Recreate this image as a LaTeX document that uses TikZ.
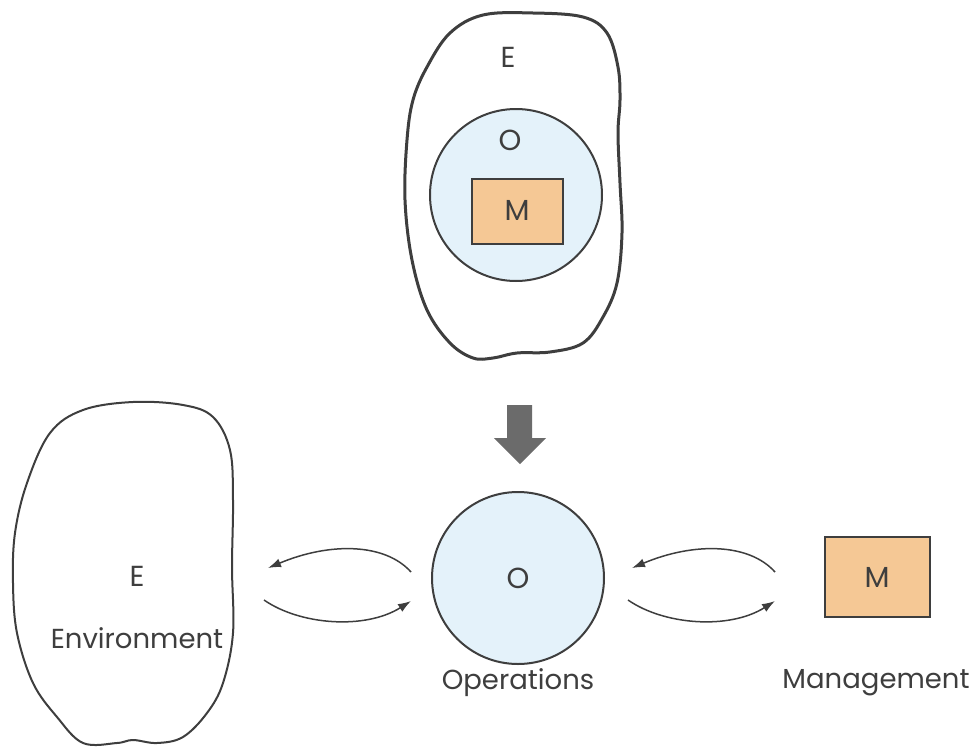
\documentclass[tikz,border=0pt]{standalone}
\usepackage{fontspec}
\setmainfont{Poppins}
\usetikzlibrary{arrows.meta}
\definecolor{ink}{HTML}{3E3E3E}
\definecolor{opblue}{HTML}{E4F2FA}
\definecolor{mgorange}{HTML}{F5C895}
\definecolor{bigarrow}{HTML}{6B6B6B}
\tikzset{
  txt/.style={text=ink,font=\fontsize{29}{32}\selectfont,inner sep=0pt},
  lbl/.style={text=ink,font=\fontsize{27.5}{32}\selectfont,inner sep=0pt},
  opcircle/.style={circle,draw=ink,line width=2pt,fill=opblue,minimum size=172pt,inner sep=0pt},
  mgbox/.style={rectangle,draw=ink,line width=1.8pt,fill=mgorange,inner sep=0pt},
  blob/.style={draw=ink,line cap=round,line join=round},
  flow/.style={draw=ink,line width=1.5pt,-{Latex[length=13pt,width=9pt]}}
}
\begin{document}
\begin{tikzpicture}[x=1pt,y=-1pt]
\useasboundingbox (0,0) rectangle (970,747);
% top blob
\path[blob,line width=3pt] plot[smooth cycle,tension=0.6] coordinates{
 (413,100) (427,67) (450,33) (483,15) (533,13) (583,17) (607,33) (618,67) (620,100)
 (618,133) (620,183) (622,233) (617,283) (603,317) (583,343) (550,352) (517,353)
 (493,358) (473,358) (450,343) (427,310) (412,260) (405,200) (407,140)};
\node[txt] (topE) at (508,57) {E};
\node[opcircle] (topO) at (516,195) {};
\node[txt] (topOl) at (510,140) {O};
\node[mgbox,minimum width=91pt,minimum height=65pt] (topM) at (517.5,211.5) {};
\node[txt] (topMl) at (517,210) {M};
% big down arrow
\path[fill=bigarrow] (507,405) -- (532,405) -- (532,438) -- (546,438) -- (520,464) -- (494,438) -- (507,438) -- cycle;
% lower-left blob
\path[blob,line width=2pt] plot[smooth cycle,tension=0.6] coordinates{
 (133,402) (83,410) (50,433) (27,483) (15,533) (13,583) (17,633) (33,683) (57,717)
 (83,743) (117,743) (133,740) (157,743) (183,737) (207,713) (223,683) (233,633)
 (232,567) (233,500) (230,450) (213,417) (183,405)};
\node[txt] (envE) at (137,576) {E};
\node[lbl] (envl) at (137,638) {Environment};
% operations
\node[opcircle] (ops) at (518,578) {};
\node[txt] (opsl) at (518,578) {O};
\node[lbl] (opsn) at (518,683) {Operations};
% management
\node[mgbox,minimum width=105pt,minimum height=80pt] (mg) at (877.5,577) {};
\node[txt] (mgl) at (877,577) {M};
\node[lbl] (mgn) at (876,683) {Management};
% flow coordinates
\coordinate (a1s) at (411,572);
\coordinate (a1e) at (268,568);
\coordinate (a2s) at (264,600);
\coordinate (a2e) at (411,601);
\coordinate (b1s) at (775,572);
\coordinate (b1e) at (632,568);
\coordinate (b2s) at (628,600);
\coordinate (b2e) at (775,601);
\draw[flow] (a1s) .. controls (385,543) and (330,542) .. (a1e);
\draw[flow] (a2s) .. controls (300,625) and (365,630) .. (a2e);
\draw[flow] (b1s) .. controls (749,543) and (694,542) .. (b1e);
\draw[flow] (b2s) .. controls (664,625) and (729,630) .. (b2e);
\end{tikzpicture}
\end{document}
